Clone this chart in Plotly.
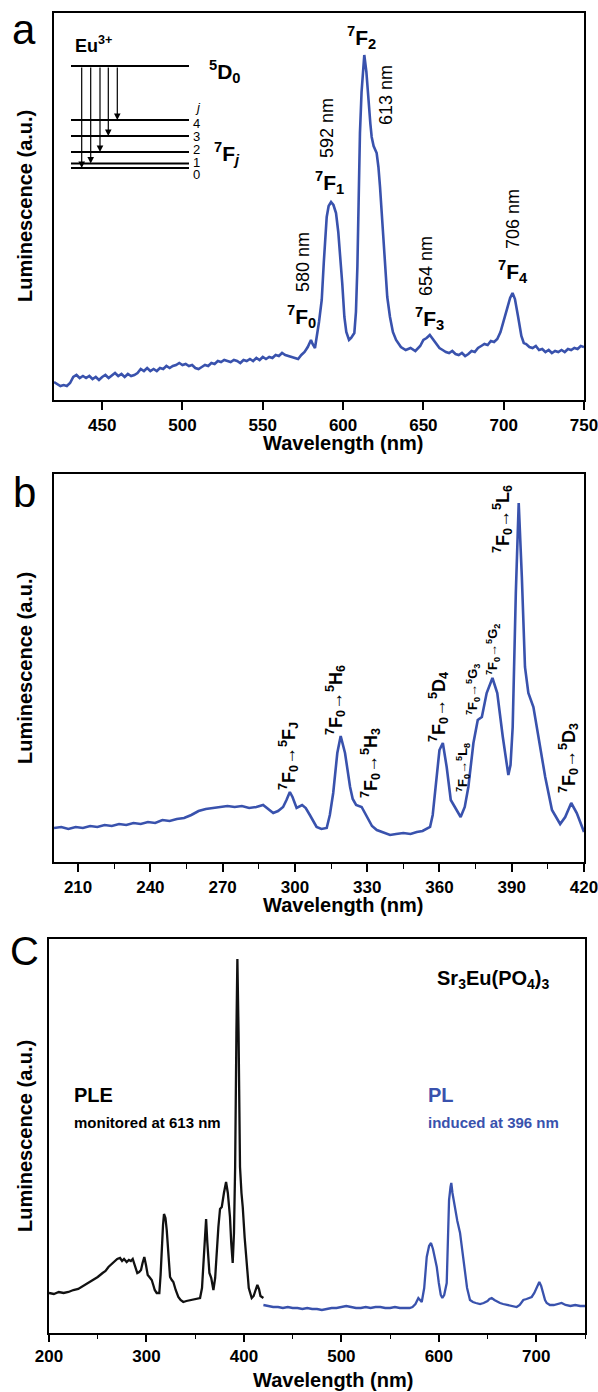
import plotly.graph_objects as go

# ---------------- data ----------------
# Panel a: emission spectrum (excited), wavelength nm / luminescence a.u.
wl_a = [420, 422, 424, 426, 428, 430, 432, 434, 436, 438, 440, 442, 444, 446, 448, 450, 452, 454, 456, 458,
        460, 462, 464, 466, 468, 470, 472, 474, 476, 478, 480, 482, 484, 486, 488, 490, 492, 494, 496, 498,
        500, 502, 504, 506, 508, 510, 512, 514, 516, 518, 520, 522, 524, 526, 528, 530, 532, 534, 536, 538,
        540, 542, 544, 546, 548, 550, 552, 554, 556, 558, 560, 562, 564, 566, 568, 570, 572, 574, 576, 578,
        580, 581, 582.5, 585, 586.7, 588, 589.8, 591, 592.5, 594, 595.6, 597, 598, 599.5, 600.8, 602, 603.7,
        605, 607, 608, 608.9, 609.7, 610.5, 611.5, 613.2, 614.5, 615.7, 617, 617.8, 619, 620.9, 622, 623,
        624.5, 626.1, 627.5, 629.2, 631, 633, 636, 639, 642, 645, 648, 650, 652, 654, 656, 658, 660, 662,
        664, 666, 668, 670, 672, 674, 676, 678, 680, 682, 684, 686, 688, 690, 692, 694, 696, 698, 700, 702,
        704, 705.5, 707, 709, 711, 712.5, 714, 716, 718, 720, 722, 724, 726, 728, 730, 732, 734, 736, 738,
        740, 742, 744, 746, 748, 750]
lum_a = [20, 18, 16, 17, 16, 19, 25, 27, 24, 26, 24, 26, 23, 25, 22, 25, 27, 24, 27, 29,
         26, 28, 25, 28, 26, 27, 29, 33, 31, 34, 31, 33, 31, 34, 33, 36, 34, 36, 37, 39,
         37, 38, 36, 37, 34, 33, 35, 37, 36, 39, 38, 41, 40, 42, 41, 40, 42, 41, 39, 42,
         41, 43, 41, 44, 42, 45, 43, 45, 44, 47, 46, 49, 47, 46, 45, 44, 43, 47, 50, 55,
         62, 58, 54, 80, 102, 140, 185, 196, 200, 197, 189, 170, 152, 118, 85, 70, 62,
         64, 69, 90, 135, 200, 269, 310, 347, 330, 302, 278, 265, 256, 249, 235, 215,
         175, 135, 105, 85, 70, 62, 55, 52, 54, 51, 56, 62, 64, 67, 63, 58, 54, 52,
         50, 49, 51, 48, 47, 49, 46, 48, 51, 50, 54, 56, 58, 57, 61, 60, 63, 70, 82, 92,
         104, 109, 103, 85, 66, 59, 58, 55, 54, 56, 52, 53, 50, 52, 49, 51, 50, 52, 50,
         53, 52, 54, 53, 56, 55]

# Panel b: excitation spectrum
wl_b = [200, 203, 206, 209, 212, 215, 218, 221, 224, 227, 230, 233, 236, 239, 242, 245, 248, 251, 254, 257,
        260, 263, 266, 269, 272, 275, 278, 281, 284, 286.8, 289, 291, 293, 295.1, 296.5, 297.9, 299, 300.7,
        303, 304.5, 306.2, 308, 309, 311, 313.2, 314.5, 315.9, 317.6, 319, 320.8, 322.9, 324, 325.4, 327.7,
        329, 330.5, 332, 334, 337, 339.5, 342, 345, 348, 350.6, 353, 356.1, 357.2, 358.2, 360, 361.4, 363,
        364.7, 366.5, 368.8, 370.5, 372, 374.1, 375.9, 377.6, 379.6, 382, 384, 386.3, 388.6, 389.5, 390.4,
        391.7, 392.9, 394.2, 395.5, 396.9, 399, 401.1, 403.9, 406.7, 410.1, 412.2, 414.7, 417, 419.6, 420]
lum_b = [37, 38, 36, 38, 37, 39, 38, 40, 39, 41, 40, 42, 41, 43, 42, 45, 44, 46, 47, 50,
         54, 56, 57, 58, 59, 58, 59, 57, 58, 60, 56, 52, 54, 58, 65, 73, 68, 57,
         60, 57, 50, 43, 38, 36, 37, 50, 72, 112, 129, 112, 78, 66, 60, 58,
         52, 45, 39, 35, 32, 30, 31, 32, 31, 33, 34, 38, 50, 72, 115, 122, 98,
         65, 58, 48, 58, 78, 122, 145, 148, 172, 187, 172, 128, 90, 100, 138,
         272, 362, 288, 198, 172, 158, 128, 88, 55, 41, 48, 62, 52, 35, 33]

# Panel c: PLE (monitored at 613 nm) and PL (induced at 396 nm)
wl_ple = [200, 205, 210, 215, 220, 225, 230, 235, 240, 245, 250, 255, 258, 261, 264, 267, 270, 272.9, 275, 277,
          279.7, 282, 284, 285.9, 288, 290.6, 292.5, 294.4, 296, 297.8, 299.5, 301.3, 303, 305.4, 307, 308.5,
          310.5, 313.2, 314.5, 315.6, 317, 318, 319.5, 320.8, 322.5, 324.2, 326, 327.6, 330, 332.7, 335, 337.8,
          341, 345, 350, 355, 357, 358.4, 360, 361.2, 362.5, 364.6, 366.5, 368.7, 370.5, 372, 373.8, 375.5,
          377.3, 379.5, 381.7, 383.5, 385.7, 387, 388.5, 389.8, 391, 392.3, 393.3, 394.5, 396, 397.5, 398.8,
          400.8, 402.9, 405, 408, 410, 412, 413.8, 415.5, 417, 418.5, 420]
lum_ple = [40, 39, 41, 40, 41, 43, 44, 47, 50, 53, 56, 60, 62, 66, 69, 72, 74, 75, 72, 74,
           71, 73, 72, 74, 68, 60, 61, 63, 70, 76, 68, 58, 56, 53, 48, 43,
           40, 40, 58, 83, 108, 119, 115, 103, 78, 56, 53, 51, 43, 36, 33, 31,
           32, 33, 34, 35, 45, 66, 95, 114, 90, 60, 55, 43, 55, 80, 106, 124,
           126, 140, 151, 140, 116, 90, 70, 100, 166, 300, 374, 300, 166, 140, 126,
           95, 66, 45, 35, 37, 43, 48, 44, 37, 36, 35]
wl_pl = [420, 425, 430, 435, 440, 445, 450, 455, 460, 465, 470, 475, 480, 485, 490, 495, 500, 505, 510, 515,
         520, 525, 530, 535, 540, 545, 550, 555, 560, 565, 570, 573, 576, 579, 580.5, 582.5, 585, 587.6, 590,
         592, 594, 596, 597.9, 600, 602, 603.6, 605.5, 608.1, 609.5, 610.5, 612, 612.8, 614, 616.6, 619, 621.8,
         624.5, 626.9, 629, 632, 635, 638, 642.3, 646, 650, 652, 654.3, 657, 660, 662.8, 666, 670, 675, 679.9,
         683, 686.7, 690, 693, 695.3, 698, 700, 703.1, 705, 707, 709, 710.7, 714, 718, 722, 726, 730, 735,
         740, 745, 750]
lum_pl = [28, 27, 26, 26, 25, 26, 25, 25, 24, 25, 24, 24, 23, 24, 25, 25, 26, 27, 26, 25,
          25, 26, 25, 26, 26, 25, 25, 26, 25, 25, 25, 26, 29, 35, 33, 31, 45, 76, 87,
          90, 84, 75, 66, 50, 38, 35, 38, 50, 100, 133, 146, 150, 140, 123, 112, 100,
          80, 60, 45, 33, 31, 30, 29, 30, 32, 34, 35, 33, 31, 30, 29, 28, 27, 26,
          28, 33, 34, 35, 36, 40, 45, 51, 47, 40, 33, 30, 28, 28, 29, 30, 28, 27,
          28, 27, 27]

# tick values
ticks_a = [450, 500, 550, 600, 650, 700, 750]
ticks_b = [210, 240, 270, 300, 330, 360, 390, 420]
ticks_c = [200, 300, 400, 500, 600, 700]

# ---------------- styling ----------------
FONT = "Liberation Sans, Arial, sans-serif"
BLUE = "#3952ad"
BLACK = "#111111"
W, H = 598, 1392


def PX(x):
    return x / W


def PY(y):
    return 1 - y / H


fig = go.Figure()
fig.add_trace(go.Scatter(x=wl_a, y=lum_a, mode="lines", line=dict(color=BLUE, width=2.6),
                         xaxis="x", yaxis="y", showlegend=False, hoverinfo="skip"))
fig.add_trace(go.Scatter(x=wl_b, y=lum_b, mode="lines", line=dict(color=BLUE, width=2.6),
                         xaxis="x2", yaxis="y2", showlegend=False, hoverinfo="skip"))
fig.add_trace(go.Scatter(x=wl_ple, y=lum_ple, mode="lines", line=dict(color=BLACK, width=2.3),
                         xaxis="x3", yaxis="y3", showlegend=False, hoverinfo="skip"))
fig.add_trace(go.Scatter(x=wl_pl, y=lum_pl, mode="lines", line=dict(color=BLUE, width=2.3),
                         xaxis="x3", yaxis="y3", showlegend=False, hoverinfo="skip"))

tickfont = dict(family=FONT, size=17, color="black", weight="bold")


def xax(x0, x1, rng, tickvals, ticklen, minor=None, anchor="y", standoff=1):
    d = dict(domain=[PX(x0), PX(x1)], range=rng, anchor=anchor, automargin=False,
             showline=True, linecolor="black", linewidth=2, mirror=True,
             ticks="outside", ticklen=ticklen, tickwidth=1.6, tickcolor="black",
             tickvals=tickvals, tickfont=tickfont, showgrid=False, zeroline=False,
             ticklabelstandoff=standoff, ticklabeloverflow="allow")
    if minor:
        d["minor"] = minor
    return d


def yax(y0, y1, rng, anchor):
    return dict(domain=[PY(y1), PY(y0)], range=rng, anchor=anchor, automargin=False,
                showline=True, linecolor="black", linewidth=2, mirror=True,
                ticks="", showticklabels=False, showgrid=False, zeroline=False)


layout = dict(
    template="none",
    width=W, height=H, autosize=False,
    margin=dict(l=0, r=0, t=0, b=0, pad=0),
    paper_bgcolor="white", plot_bgcolor="white",
    xaxis=xax(54, 584, [420, 750], ticks_a, 8, anchor="y"),
    yaxis=yax(13, 400, [2, 389], "x"),
    xaxis2=xax(54, 584, [200, 420], ticks_b, 8,
               minor=dict(ticks="outside", ticklen=5, tickwidth=1.4, tickcolor="black", dtick=15, tick0=210,
                          showgrid=False),
               anchor="y2"),
    yaxis2=yax(474, 862, [3, 391], "x2"),
    xaxis3=xax(49, 585, [200, 750], ticks_c, 7,
               minor=dict(ticks="outside", ticklen=4, tickwidth=1.4, tickcolor="black", dtick=50, tick0=200,
                          showgrid=False),
               anchor="y3", standoff=0),
    yaxis3=yax(939, 1333, [0, 394], "x3"),
)
fig.update_layout(**layout)

annotations = []


def ann(text, x, y, size, angle=0, color="black", xanchor="center", yanchor="middle", weight="normal"):
    annotations.append(dict(text=text, x=PX(x), y=PY(y), xref="paper", yref="paper",
                            showarrow=False, textangle=angle, xanchor=xanchor, yanchor=yanchor,
                            font=dict(family=FONT, size=size, color=color, weight=weight)))


# panel letters
ann("a", 24, 29, 42)
ann("b", 24, 492, 42)
ann("C", 24, 951, 40)

# axis titles
for ycen in (206, 668, 1136):
    ann("<b>Luminescence (a.u.)</b>", 25, ycen, 20, angle=-90)
ann("<b>Wavelength (nm)</b>", 343, 443, 20)
ann("<b>Wavelength (nm)</b>", 343, 905, 20)
ann("<b>Wavelength (nm)</b>", 333, 1380, 20)

# panel a: energy level diagram
shapes = []
levels = {"D0": 66, "4": 120, "3": 136, "2": 152, "1": 163.5, "0": 168}
for lv, yy in levels.items():
    shapes.append(dict(type="line", xref="paper", yref="paper", x0=PX(71), x1=PX(189), y0=PY(yy), y1=PY(yy),
                       line=dict(color="black", width=2)))
arrow_x = [81.7, 90.7, 100, 108.3, 117.3]
arrow_to = ["0", "1", "2", "3", "4"]
for ax_, lv in zip(arrow_x, arrow_to):
    yt = levels[lv]
    annotations.append(dict(x=PX(ax_), y=PY(yt), xref="paper", yref="paper", text="",
                            showarrow=True, ax=0, ay=-(yt - levels["D0"]), arrowhead=2, arrowsize=1.1,
                            arrowwidth=1.2, arrowcolor="black"))
ann("<b>Eu<sup>3+</sup></b>", 73, 44, 18, xanchor="left")
ann("<b><sup>5</sup>D<sub>0</sub></b>", 225, 71, 21)
ann("<b><sup>7</sup>F<sub><i>j</i></sub></b>", 227, 153, 21)
ann("<i>j</i>", 193, 108, 13, xanchor="left")
for lab, yy in (("4", 123), ("3", 136), ("2", 150), ("1", 162), ("0", 175)):
    ann(lab, 191, yy, 13, xanchor="left")

# panel a: peak labels
for txt, x, y in (("<b><sup>7</sup>F<sub>2</sub></b>", 361, 38),
                  ("<b><sup>7</sup>F<sub>1</sub></b>", 329, 182),
                  ("<b><sup>7</sup>F<sub>0</sub></b>", 301, 316),
                  ("<b><sup>7</sup>F<sub>3</sub></b>", 429, 319),
                  ("<b><sup>7</sup>F<sub>4</sub></b>", 513, 271)):
    ann(txt, x, y, 21)
for txt, x, y in (("613 nm", 386, 95), ("592 nm", 327, 128), ("580 nm", 303, 262),
                  ("654 nm", 426, 266), ("706 nm", 513, 219)):
    ann(txt, x, y, 18, angle=-90)

# panel b: transition labels
big = [("F<sub>J</sub>", 288, 756), ("H<sub>6</sub>", 335, 700), ("H<sub>3</sub>", 370, 763),
       ("D<sub>4</sub>", 438, 707), ("L<sub>6</sub>", 503, 519), ("D<sub>3</sub>", 568, 758)]
for term, x, y in big:
    ann("<b><sup>7</sup>F<sub>0</sub>→<sup>5</sup>" + term + "</b>", x, y, 18, angle=-90)
small = [("L<sub>8</sub>", 463, 768), ("G<sub>3</sub>", 473, 690), ("G<sub>2</sub>", 493, 650)]
for term, x, y in small:
    ann("<b><sup>7</sup>F<sub>0</sub>→<sup>5</sup>" + term + "</b>", x, y, 13, angle=-90)

# panel c labels
ann("<b>Sr<sub>3</sub>Eu(PO<sub>4</sub>)<sub>3</sub></b>", 435, 979, 20, xanchor="left")
ann("<b>PLE</b>", 72, 1095, 20, xanchor="left")
ann("<b>monitored at 613 nm</b>", 72, 1122, 15, xanchor="left")
ann("<b>PL</b>", 426, 1095, 20, xanchor="left", color=BLUE)
ann("<b>induced at 396 nm</b>", 426, 1122, 15, xanchor="left", color=BLUE)

fig.update_layout(annotations=annotations, shapes=shapes)
fig.write_html("out.html", config={"displayModeBar": False},
               post_script="document.body.style.margin='0px';document.body.style.overflow='hidden';")
